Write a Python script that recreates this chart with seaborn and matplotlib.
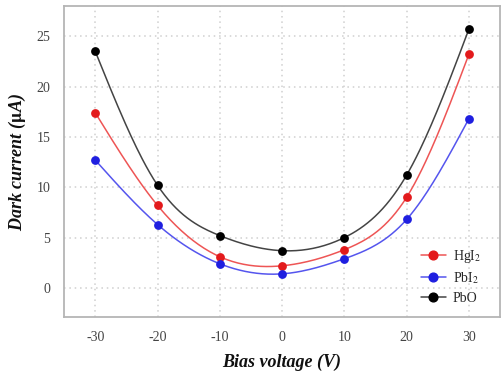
import matplotlib
matplotlib.use("Agg")
import matplotlib.pyplot as plt
from matplotlib.lines import Line2D
import seaborn as sns
import numpy as np
import pandas as pd

# data
bias = [-30, -20, -10, 0, 10, 20, 30]
hgi2 = [17.4, 8.2, 3.1, 2.2, 3.8, 9.0, 23.2]
pbi2 = [12.7, 6.3, 2.4, 1.4, 2.9, 6.8, 16.8]
pbo = [23.5, 10.2, 5.2, 3.7, 5.0, 11.2, 25.7]

labels = ["HgI$_2$", "PbI$_2$", "PbO"]
colors = ["#e31a1c", "#1f1fe0", "#000000"]
line_colors = ["#ee5555", "#5555ee", "#444444"]


# natural cubic spline, only used to draw smooth curves through the points
def smooth(x, y, n=200):
    x = np.asarray(x, float)
    y = np.asarray(y, float)
    k = len(x)
    h = np.diff(x)
    A = np.zeros((k, k))
    b = np.zeros(k)
    A[0, 0] = A[-1, -1] = 1
    for i in range(1, k - 1):
        A[i, i - 1] = h[i - 1]
        A[i, i] = 2 * (h[i - 1] + h[i])
        A[i, i + 1] = h[i]
        b[i] = 6 * ((y[i + 1] - y[i]) / h[i] - (y[i] - y[i - 1]) / h[i - 1])
    m = np.linalg.solve(A, b)
    xs = np.linspace(x[0], x[-1], n)
    idx = np.clip(np.searchsorted(x, xs) - 1, 0, k - 2)
    t = xs - x[idx]
    hi = h[idx]
    a = y[idx]
    c1 = (y[idx + 1] - y[idx]) / hi - hi * (2 * m[idx] + m[idx + 1]) / 6
    c2 = m[idx] / 2
    c3 = (m[idx + 1] - m[idx]) / (6 * hi)
    return xs, a + c1 * t + c2 * t ** 2 + c3 * t ** 3


sns.set_style("white")
plt.rcParams["font.family"] = ["Liberation Serif", "DejaVu Serif"]
plt.rcParams["mathtext.fontset"] = "stix"

fig = plt.figure(figsize=(5.01, 3.78), dpi=100)
ax = fig.add_axes([0.128, 0.161, 0.870, 0.823])

handles = []
for ys, lab, col, lcol in zip([hgi2, pbi2, pbo], labels, colors, line_colors):
    xs, yc = smooth(bias, ys)
    sns.lineplot(x=xs, y=yc, ax=ax, color=lcol, linewidth=1.1, legend=False, zorder=2)
    df = pd.DataFrame({"bias": bias, "current": ys})
    sns.scatterplot(data=df, x="bias", y="current", ax=ax, color=col, s=40,
                    edgecolor=col, linewidth=0, zorder=3, legend=False)
    handles.append(Line2D([0], [0], color=lcol, marker="o", markersize=6.3,
                          markerfacecolor=col, markeredgecolor=col, linewidth=1.1, label=lab))

ax.set_xlim(-35, 35)
ax.set_ylim(-2.9, 28)
ax.set_xticks(bias)
ax.set_xticklabels([str(v) for v in bias])
ax.set_yticks([0, 5, 10, 15, 20, 25])
ax.grid(True, color="#cfcfcf", linestyle=(0, (1, 2.5)), linewidth=1.1)
for s in ax.spines.values():
    s.set_color("#b5b5b5")
    s.set_linewidth(1.3)
ax.tick_params(axis="both", labelsize=10, colors="#555555", length=3, width=0.8,
               direction="out", pad=7)
for t in ax.get_xticklabels() + ax.get_yticklabels():
    t.set_color("#444444")

ax.set_xlabel("Bias voltage (V)", fontsize=13, fontweight="bold", fontstyle="italic",
              labelpad=7, color="#111111")
ax.set_ylabel("Dark current ($\\mathbf{\\mu}$A)", fontsize=13, fontweight="bold",
              fontstyle="italic", labelpad=6, color="#111111")

ax.legend(handles=handles, loc="lower right", frameon=False, fontsize=10,
          handlelength=1.8, handletextpad=0.5, labelspacing=0.4,
          bbox_to_anchor=(0.985, 0.0))

fig.savefig("out.png", dpi=100)
